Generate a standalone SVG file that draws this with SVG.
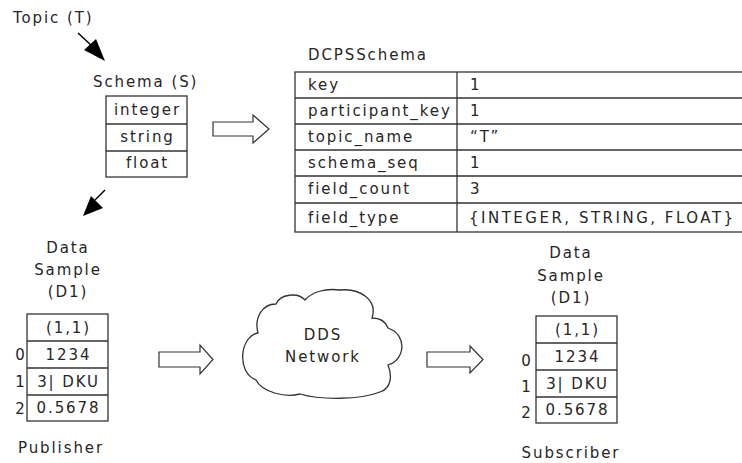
<svg xmlns="http://www.w3.org/2000/svg" width="742" height="463" viewBox="0 0 742 463">
  <style>
    text { font-family: "DejaVu Sans", Verdana, sans-serif; font-size: 15px; fill: #262626; letter-spacing: 1.9px; }
    .c { text-anchor: middle; }
    .wide { letter-spacing: 2.5px; }
    .box { fill: #fff; stroke: #333; stroke-width: 1.3; }
    .ln { stroke: #333; stroke-width: 1.3; fill: none; }
    .blk { fill: #fff; stroke: #333; stroke-width: 1.2; stroke-linejoin: miter; }
    .head { fill: #000; stroke: none; }
    .shaft { stroke: #000; stroke-width: 1.5; }
  </style>

  <!-- Topic label -->
  <g id="topic">
    <text x="13" y="23">Topic (T)</text>
  </g>

  <!-- Schema with three field types -->
  <g id="schema">
    <text x="93" y="87">Schema (S)</text>
    <rect class="box" x="106" y="96" width="81" height="81"/>
    <line class="ln" x1="106" y1="124" x2="187" y2="124"/>
    <line class="ln" x1="106" y1="151" x2="187" y2="151"/>
    <text class="c" x="147.5" y="115">integer</text>
    <text class="c" x="147.5" y="142">string</text>
    <text class="c" x="147.5" y="168">float</text>
  </g>

  <!-- DCPSSchema table -->
  <g id="dcpsschema">
    <text x="308" y="60">DCPSSchema</text>
    <rect class="box" x="295" y="72" width="460" height="160"/>
    <line class="ln" x1="457" y1="72" x2="457" y2="232"/>
    <line class="ln" x1="295" y1="98" x2="742" y2="98"/>
    <line class="ln" x1="295" y1="124" x2="742" y2="124"/>
    <line class="ln" x1="295" y1="150" x2="742" y2="150"/>
    <line class="ln" x1="295" y1="176" x2="742" y2="176"/>
    <line class="ln" x1="295" y1="203" x2="742" y2="203"/>
    <text x="308" y="90">key</text>
    <text x="308" y="116">participant_key</text>
    <text x="308" y="142">topic_name</text>
    <text x="308" y="168">schema_seq</text>
    <text x="308" y="194">field_count</text>
    <text x="308" y="223">field_type</text>
    <text x="470" y="90">1</text>
    <text x="470" y="116">1</text>
    <text x="470" y="142">“T”</text>
    <text x="470" y="168">1</text>
    <text x="470" y="194">3</text>
    <text class="wide" x="469" y="223">{INTEGER, STRING, FLOAT}</text>
  </g>

  <!-- Publisher-side data sample -->
  <g id="publisher-sample">
    <text class="c" x="68" y="253">Data</text>
    <text class="c" x="68" y="275">Sample</text>
    <text class="c" x="68" y="297">(D1)</text>
    <rect class="box" x="27" y="314" width="81" height="107"/>
    <line class="ln" x1="27" y1="341" x2="108" y2="341"/>
    <line class="ln" x1="27" y1="368" x2="108" y2="368"/>
    <line class="ln" x1="27" y1="395" x2="108" y2="395"/>
    <text class="c" x="68.5" y="333">(1,1)</text>
    <text class="c" x="68.5" y="360">1234</text>
    <text class="c" x="68.5" y="387">3| DKU</text>
    <text class="c" x="68.5" y="413">0.5678</text>
    <text class="c" x="21" y="360">0</text>
    <text class="c" x="21" y="387">1</text>
    <text class="c" x="21" y="414">2</text>
    <text class="c" x="61" y="453">Publisher</text>
  </g>

  <!-- DDS network cloud -->
  <g id="dds-network">
    <path class="box" d="M258,333 C240,336 236,372 256,380 C262,392 285,398 300,394 C320,400 360,400 380,392 C392,388 392,375 388,365 C405,360 408,335 388,328 C385,320 378,318 372,318 C378,300 360,288 340,290 C325,288 312,292 305,300 C298,292 280,294 276,304 C262,304 254,318 258,333 Z"/>
    <text class="c" x="323" y="340">DDS</text>
    <text class="c" x="323" y="362">Network</text>
  </g>

  <!-- Subscriber-side data sample -->
  <g id="subscriber-sample">
    <text class="c" x="571" y="258">Data</text>
    <text class="c" x="571" y="281">Sample</text>
    <text class="c" x="571" y="303">(D1)</text>
    <rect class="box" x="536" y="316" width="81" height="107"/>
    <line class="ln" x1="536" y1="343" x2="617" y2="343"/>
    <line class="ln" x1="536" y1="370" x2="617" y2="370"/>
    <line class="ln" x1="536" y1="397" x2="617" y2="397"/>
    <text class="c" x="577.5" y="335">(1,1)</text>
    <text class="c" x="577.5" y="362">1234</text>
    <text class="c" x="577.5" y="389">3| DKU</text>
    <text class="c" x="577.5" y="415">0.5678</text>
    <text class="c" x="527" y="366">0</text>
    <text class="c" x="527" y="392">1</text>
    <text class="c" x="527" y="418">2</text>
    <text class="c" x="571" y="458">Subscriber</text>
  </g>

  <!-- Connectors -->
  <g id="connectors">
    <!-- Topic to Schema -->
    <line class="shaft" x1="78" y1="33" x2="92" y2="46"/>
    <polygon class="head" points="84,50 96,39 105,61"/>
    <!-- Schema to Data Sample -->
    <line class="shaft" x1="105" y1="190" x2="95" y2="200"/>
    <polygon class="head" points="91,196 103,208 83,216"/>
    <!-- Block arrows -->
    <polygon class="blk" points="213,122 253,122 253,115 269,129 253,143 253,136 213,136"/>
    <polygon class="blk" points="159,352 200,352 200,345 213,359.5 200,374 200,367 159,367"/>
    <polygon class="blk" points="427,352 470,352 470,346 483,359.5 470,373 470,367 427,367"/>
  </g>
</svg>
